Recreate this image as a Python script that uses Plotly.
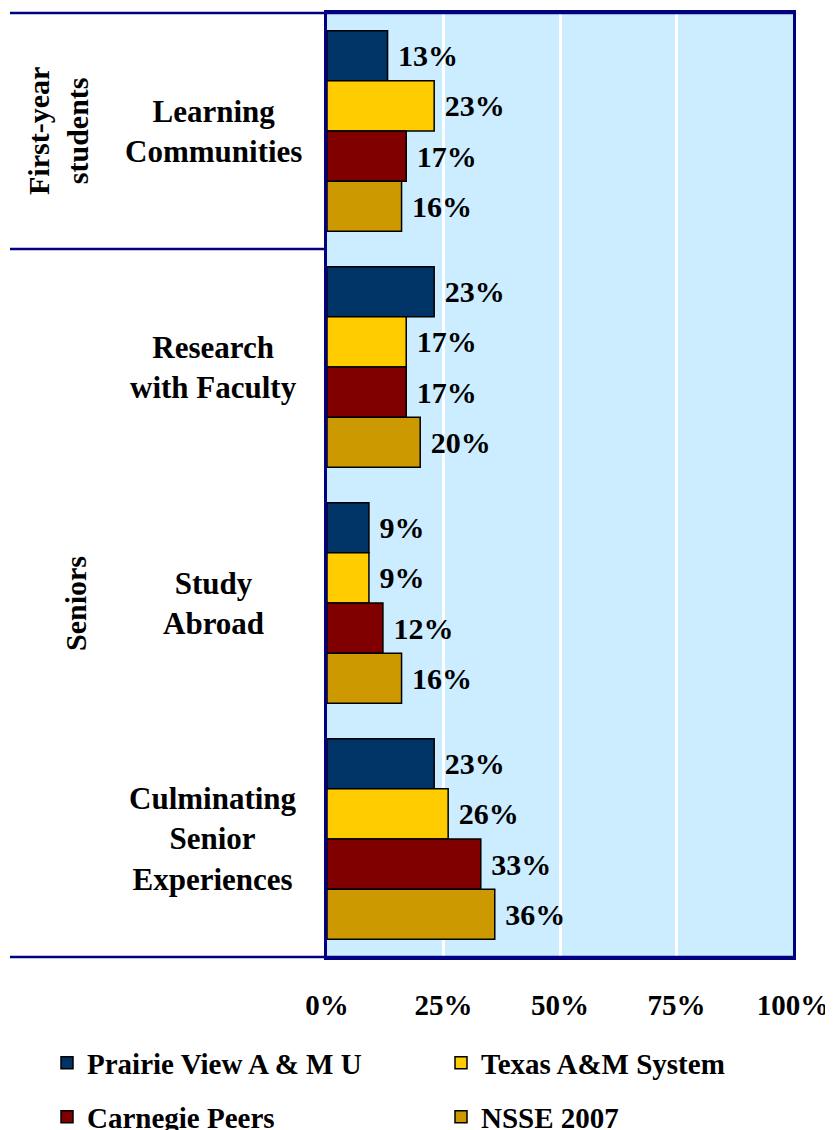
import plotly.graph_objects as go

categories = ["Learning Communities", "Research with Faculty", "Study Abroad", "Culminating Senior Experiences"]
category_labels = ["Learning<br>Communities", "Research<br>with Faculty", "Study<br>Abroad", "Culminating<br>Senior<br>Experiences"]
series_names = ["Prairie View A & M U", "Texas A&M System", "Carnegie Peers", "NSSE 2007"]
prairie_view = [13, 23, 9, 23]
texas_am = [23, 17, 9, 26]
carnegie = [17, 17, 12, 33]
nsse = [16, 20, 16, 36]
tick_values = [0, 25, 50, 75, 100]
tick_labels = ["0%", "25%", "50%", "75%", "100%"]
group_labels = ["First-year<br>students", "Seniors"]

FONT = "Times New Roman, Liberation Serif, serif"
colors = ["#003366", "#FFCC00", "#800000", "#CC9900"]
navy = "#000080"

OFF = 8  # page body margin
W, H = 825, 1122
L = 327 - OFF
R = W - (793 - OFF)
T = 13 - OFF
B = H - (957 - OFF)
pw = W - L - R
ph = H - T - B

def sx(px):  # screen x -> paper
    return (px - OFF - L) / pw

def sy(py):  # screen y -> paper
    return (H - B - (py - OFF)) / ph

fig = go.Figure()
all_vals = [prairie_view, texas_am, carnegie, nsse]
legend_ids = ["legend", "legend2", "legend3", "legend4"]
for name, vals, col, lg in zip(series_names, all_vals, colors, legend_ids):
    fig.add_trace(go.Bar(
        y=categories, x=vals, orientation="h", name=name,
        marker=dict(color=col, line=dict(color="black", width=1.5)),
        text=["\u00a0" + f"{v}%" for v in vals], textposition="outside",
        textfont=dict(family=FONT, size=30, color="black", weight="bold"),
        cliponaxis=False, legend=lg,
    ))

x_left = sx(10)

shapes = [
    dict(type="line", xref="paper", yref="paper", x0=x_left, x1=1, y0=1, y1=1,
         line=dict(color=navy, width=2.5)),
    dict(type="line", xref="paper", yref="paper", x0=x_left, x1=1, y0=0, y1=0,
         line=dict(color=navy, width=2.5)),
    dict(type="line", xref="paper", yref="y", x0=x_left, x1=0, y0=0.5, y1=0.5,
         line=dict(color=navy, width=2.5)),
]

annotations = []
for cat, lab in zip(categories, category_labels):
    annotations.append(dict(
        x=sx(213), xref="paper", y=cat, yref="y", text=f"<b>{lab}</b>",
        showarrow=False, align="center", xanchor="center", yanchor="middle",
        font=dict(family=FONT, size=31, color="black"),
    ))
annotations.append(dict(
    x=sx(58), xref="paper", y=categories[0], yref="y", text=f"<b>{group_labels[0]}</b>",
    showarrow=False, textangle=-90, align="center", xanchor="center", yanchor="middle",
    font=dict(family=FONT, size=30, color="black"),
))
annotations.append(dict(
    x=sx(75), xref="paper", y=2, yref="y", text=f"<b>{group_labels[1]}</b>",
    showarrow=False, textangle=-90, align="center", xanchor="center", yanchor="middle",
    font=dict(family=FONT, size=30, color="black"),
))

legend_common = dict(
    orientation="h", xanchor="left", yanchor="middle",
    font=dict(family=FONT, size=29, color="black", weight="bold"),
    bgcolor="rgba(0,0,0,0)",
    itemclick=False, itemdoubleclick=False,
)
leg_pos = [(47, 1063), (441, 1063), (47, 1117), (441, 1117)]

layout_legends = {}
for lg, (lx, ly) in zip(legend_ids, leg_pos):
    layout_legends[lg] = dict(x=sx(lx), y=sy(ly), **legend_common)

fig.update_layout(
    width=W, height=H,
    margin=dict(l=L, r=R, t=T, b=B, autoexpand=False),
    paper_bgcolor="white", plot_bgcolor="#CCECFF",
    barmode="group", bargap=0.15, bargroupgap=0,
    font=dict(family=FONT, color="black"),
    xaxis=dict(range=[0, 100], tickvals=tick_values, ticktext=tick_labels,
               tickfont=dict(family=FONT, size=29, color="black", weight="bold"),
               showgrid=True, gridcolor="white", gridwidth=3, zeroline=False,
               showline=True, linecolor=navy, linewidth=2.5, mirror=True,
               ticks="", ticklabelstandoff=20, fixedrange=True, automargin=False),
    yaxis=dict(categoryorder="array", categoryarray=categories, autorange="reversed",
               showticklabels=False, showgrid=False, zeroline=False,
               showline=True, linecolor=navy, linewidth=2.5, mirror=True, fixedrange=True,
               automargin=False),
    shapes=shapes, annotations=annotations, showlegend=True,
    **layout_legends,
)

fig.write_html("out.html")
